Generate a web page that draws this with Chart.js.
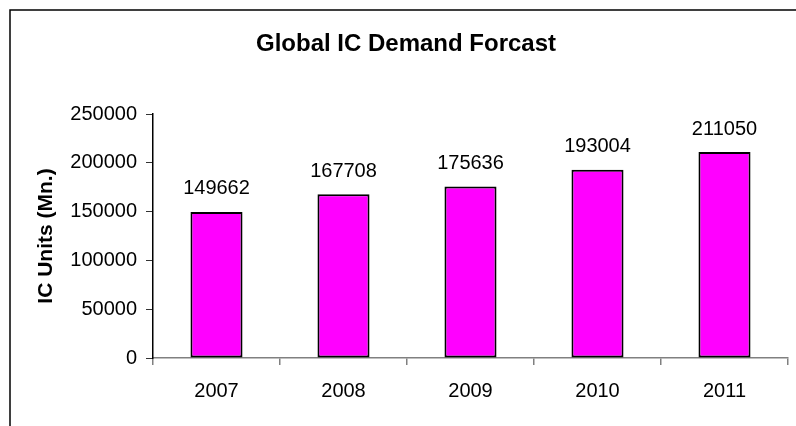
<!DOCTYPE html>
<html>
<head>
<meta charset="utf-8">
<script src="https://cdn.jsdelivr.net/npm/chart.js@4"></script>
<style>
  html, body { margin: 0; padding: 0; background: #fff; }
  canvas { display: block; }
</style>
</head>
<body>
<canvas id="chart" width="796" height="426"></canvas>
<script>
// データ
const years = ['2007', '2008', '2009', '2010', '2011'];
const demand = [149662, 167708, 175636, 193004, 211050];
const yTicks = [0, 50000, 100000, 150000, 200000, 250000];

const FONT = '"Liberation Sans", Arial, sans-serif';

// 外枠 (左と上だけ見えている) + タイトル
const framePlugin = {
    id: 'frame',
    beforeDraw: (chart) => {
        const ctx = chart.ctx;
        ctx.save();
        ctx.fillStyle = '#fff';
        ctx.fillRect(0, 0, chart.width, chart.height);
        ctx.strokeStyle = '#000';
        ctx.lineWidth = 1.5;
        ctx.beginPath();
        ctx.moveTo(10, chart.height);
        ctx.lineTo(10, 10);
        ctx.lineTo(chart.width, 10);
        ctx.stroke();
        ctx.fillStyle = '#000';
        ctx.font = 'bold 24px ' + FONT;
        ctx.textAlign = 'center';
        ctx.textBaseline = 'middle';
        ctx.fillText('Global IC Demand Forcast', 406, 44);
        ctx.restore();
    }
};

// 棒の上に値を表示
const valueLabels = {
    id: 'valueLabels',
    afterDatasetsDraw: (chart) => {
        const ctx = chart.ctx;
        const meta = chart.getDatasetMeta(0);
        ctx.save();
        ctx.fillStyle = '#000';
        ctx.font = '20px ' + FONT;
        ctx.textAlign = 'center';
        ctx.textBaseline = 'bottom';
        meta.data.forEach((bar, i) => {
            ctx.fillText(String(demand[i]), bar.x, bar.y - 13);
        });
        ctx.restore();
    }
};

new Chart(document.getElementById('chart').getContext('2d'), {
    type: 'bar',
    data: {
        labels: years,
        datasets: [{
            data: demand,
            backgroundColor: '#FF00FF',
            borderColor: '#000',
            borderWidth: 2,
            borderSkipped: false,
            barPercentage: 0.41,
            categoryPercentage: 1
        }]
    },
    options: {
        responsive: false,
        animation: false,
        layout: { padding: { top: 114, right: 8, bottom: 0, left: 0 } },
        plugins: {
            legend: { display: false },
            tooltip: { enabled: false }
        },
        scales: {
            x: {
                afterFit: (s) => { s.height = 68; },
                grid: {
                    offset: true,
                    drawOnChartArea: false,
                    drawTicks: true,
                    tickLength: 7,
                    color: '#808080',
                    lineWidth: 1.5
                },
                border: { color: '#808080', width: 1.5 },
                ticks: {
                    color: '#000',
                    font: { family: FONT, size: 20 },
                    padding: 14
                }
            },
            y: {
                min: 0,
                max: 250000,
                afterFit: (s) => { s.width = 153; },
                afterBuildTicks: (s) => { s.ticks = yTicks.map(v => ({ value: v })); },
                grid: {
                    drawOnChartArea: false,
                    drawTicks: true,
                    tickLength: 7,
                    color: '#333',
                    lineWidth: 1
                },
                border: { color: '#000', width: 1.5 },
                ticks: {
                    color: '#000',
                    font: { family: FONT, size: 20 },
                    padding: 9,
                    callback: (v) => String(v)
                },
                title: {
                    display: true,
                    text: 'IC Units (Mn.)',
                    color: '#000',
                    font: { family: FONT, size: 21, weight: 'bold' },
                    padding: { top: 34, bottom: 0 }
                }
            }
        }
    },
    plugins: [framePlugin, valueLabels]
});
</script>
</body>
</html>
